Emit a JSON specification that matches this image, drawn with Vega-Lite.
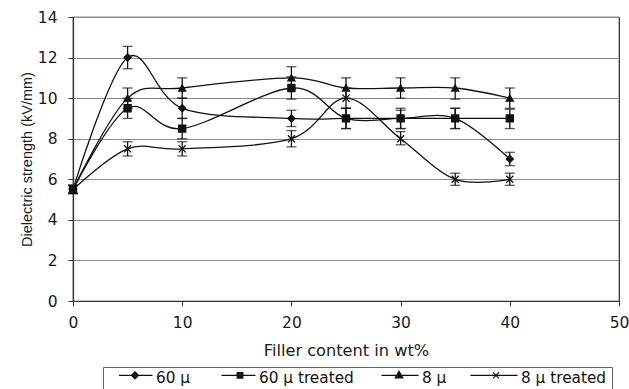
{
  "$schema": "https://vega.github.io/schema/vega-lite/v6.json",
  "width": 546,
  "height": 284,
  "autosize": "none",
  "padding": {"left": 73, "top": 17, "right": 10, "bottom": 88},
  "background": "white",
  "config": {
    "view": {"stroke": "#222", "strokeWidth": 1.2},
    "axis": {
      "labelFont": "DejaVu Sans",
      "labelFontSize": 15.5,
      "labelColor": "#1a1a1a",
      "titleColor": "#1a1a1a",
      "titleFontWeight": "normal",
      "domainColor": "#333",
      "domainWidth": 1.2,
      "tickColor": "#333",
      "tickSize": 5
    }
  },
  "data": {
    "values": [
      {"series": "60 μ", "filler": 0, "strength": 5.5, "lo": 5.3, "hi": 5.7},
      {"series": "60 μ", "filler": 5, "strength": 12, "lo": 11.45, "hi": 12.55},
      {"series": "60 μ", "filler": 10, "strength": 9.5, "lo": 9.0, "hi": 10.0},
      {"series": "60 μ", "filler": 20, "strength": 9, "lo": 8.6, "hi": 9.4},
      {"series": "60 μ", "filler": 25, "strength": 9, "lo": 8.5, "hi": 9.5},
      {"series": "60 μ", "filler": 30, "strength": 9, "lo": 8.5, "hi": 9.4},
      {"series": "60 μ", "filler": 35, "strength": 9, "lo": 8.5, "hi": 9.5},
      {"series": "60 μ", "filler": 40, "strength": 7, "lo": 6.67, "hi": 7.33},
      {"series": "60 μ treated", "filler": 0, "strength": 5.5, "lo": 5.3, "hi": 5.7},
      {"series": "60 μ treated", "filler": 5, "strength": 9.5, "lo": 9.0, "hi": 10.0},
      {"series": "60 μ treated", "filler": 10, "strength": 8.5, "lo": 8.0, "hi": 9.0},
      {"series": "60 μ treated", "filler": 20, "strength": 10.5, "lo": 9.95, "hi": 11.05},
      {"series": "60 μ treated", "filler": 25, "strength": 9, "lo": 8.5, "hi": 9.5},
      {"series": "60 μ treated", "filler": 30, "strength": 9, "lo": 8.5, "hi": 9.5},
      {"series": "60 μ treated", "filler": 35, "strength": 9, "lo": 8.5, "hi": 9.5},
      {"series": "60 μ treated", "filler": 40, "strength": 9, "lo": 8.5, "hi": 9.45},
      {"series": "8 μ", "filler": 0, "strength": 5.5, "lo": 5.3, "hi": 5.7},
      {"series": "8 μ", "filler": 5, "strength": 10, "lo": 9.5, "hi": 10.5},
      {"series": "8 μ", "filler": 10, "strength": 10.5, "lo": 10.0, "hi": 11.0},
      {"series": "8 μ", "filler": 20, "strength": 11, "lo": 10.45, "hi": 11.55},
      {"series": "8 μ", "filler": 25, "strength": 10.5, "lo": 10.0, "hi": 11.0},
      {"series": "8 μ", "filler": 30, "strength": 10.5, "lo": 10.0, "hi": 11.0},
      {"series": "8 μ", "filler": 35, "strength": 10.5, "lo": 9.95, "hi": 11.0},
      {"series": "8 μ", "filler": 40, "strength": 10, "lo": 9.5, "hi": 10.5},
      {"series": "8 μ treated", "filler": 0, "strength": 5.5, "lo": 5.3, "hi": 5.7},
      {"series": "8 μ treated", "filler": 5, "strength": 7.5, "lo": 7.15, "hi": 7.85},
      {"series": "8 μ treated", "filler": 10, "strength": 7.5, "lo": 7.15, "hi": 7.85},
      {"series": "8 μ treated", "filler": 20, "strength": 8, "lo": 7.6, "hi": 8.4},
      {"series": "8 μ treated", "filler": 25, "strength": 10, "lo": 9.5, "hi": 10.5},
      {"series": "8 μ treated", "filler": 30, "strength": 8, "lo": 7.7, "hi": 8.35},
      {"series": "8 μ treated", "filler": 35, "strength": 6, "lo": 5.7, "hi": 6.3},
      {"series": "8 μ treated", "filler": 40, "strength": 6, "lo": 5.7, "hi": 6.3}
    ]
  },
  "encoding": {
    "x": {
      "field": "filler",
      "type": "quantitative",
      "scale": {"domain": [0, 50], "nice": false},
      "axis": {
        "title": "Filler content in wt%",
        "titleFont": "DejaVu Sans",
        "titleFontSize": 16.2,
        "titlePadding": 12,
        "values": [0, 10, 20, 30, 40, 50],
        "labelPadding": 9,
        "grid": false,
        "labelFlush": false
      }
    }
  },
  "layer": [
    {
      "mark": {"type": "rule", "color": "#111", "strokeWidth": 1.3},
      "encoding": {
        "y": {"field": "lo", "type": "quantitative"},
        "y2": {"field": "hi"}
      }
    },
    {
      "mark": {"type": "tick", "orient": "horizontal", "size": 10, "thickness": 1.3, "color": "#111"},
      "encoding": {"y": {"field": "lo", "type": "quantitative"}}
    },
    {
      "mark": {"type": "tick", "orient": "horizontal", "size": 10, "thickness": 1.3, "color": "#111"},
      "encoding": {"y": {"field": "hi", "type": "quantitative"}}
    },
    {
      "mark": {"type": "line", "interpolate": "cardinal", "color": "#111", "strokeWidth": 1.3},
      "encoding": {
        "y": {"field": "strength", "type": "quantitative"},
        "detail": {"field": "series"}
      }
    },
    {
      "mark": {"type": "point", "filled": true, "color": "#111", "stroke": "#111", "strokeWidth": 1.3, "size": 50, "opacity": 1},
      "encoding": {
        "y": {
          "field": "strength",
          "type": "quantitative",
          "scale": {"domain": [0, 14], "nice": false},
          "axis": {
            "title": "Dielectric strength (kV/mm)",
            "titleFont": "Liberation Sans",
            "titleFontSize": 14.5,
            "titlePadding": 3,
            "values": [0, 2, 4, 6, 8, 10, 12, 14],
            "labelPadding": 11,
            "grid": true,
            "gridColor": "#8a8a8a",
            "gridWidth": 1
          }
        },
        "shape": {
          "field": "series",
          "type": "nominal",
          "scale": {
            "domain": ["60 μ", "60 μ treated", "8 μ", "8 μ treated"],
            "range": ["diamond", "square", "triangle-up", "M-1,-1L1,1M-1,1L1,-1"]
          },
          "legend": null
        }
      }
    },
    {
      "description": "Key: each entry is a line segment with the series marker on it",
      "transform": [{"filter": "datum.filler < 0"}],
      "mark": {"type": "point", "filled": false, "color": "#111", "strokeWidth": 1.3, "opacity": 1},
      "encoding": {
        "shape": {
          "field": "series",
          "type": "nominal",
          "scale": {
            "domain": ["60 μ", "60 μ treated", "8 μ", "8 μ treated"],
            "range": [
              "M0,-0.8L3.35,-0.8M1.6,-1.15L1.95,-0.8L1.6,-0.45L1.25,-0.8ZM1.6,-1.02L1.82,-0.8L1.6,-0.58L1.38,-0.8ZM1.6,-0.9L1.7,-0.8L1.6,-0.7L1.5,-0.8Z",
              "M-0.05,-0.8L3.35,-0.8M1.52,-1.08L2.08,-1.08L2.08,-0.52L1.52,-0.52ZM1.66,-0.94L1.94,-0.94L1.94,-0.66L1.66,-0.66Z",
              "M-0.35,-0.8L3.35,-0.8M1.4,-1.2L1.77,-0.55L1.03,-0.55ZM1.4,-0.98L1.57,-0.67L1.23,-0.67Z",
              "M-1.35,-0.8L3.35,-0.8M0.9,-1.1L1.5,-0.5M0.9,-0.5L1.5,-1.1"
            ]
          },
          "legend": {
            "title": null,
            "orient": "none",
            "legendX": 30,
            "legendY": 350,
            "direction": "horizontal",
            "padding": 5,
            "strokeColor": "#666",
            "symbolSize": 400,
            "symbolStrokeColor": "#111",
            "symbolFillColor": "#111",
            "symbolStrokeWidth": 1.3,
            "symbolOpacity": 1,
            "labelOffset": 26,
            "columnPadding": 20,
            "labelFont": "DejaVu Sans",
            "labelFontSize": 15.3,
            "labelColor": "#111",
            "labelBaseline": "alphabetic"
          }
        }
      }
    }
  ],
  "resolve": {"scale": {"shape": "independent"}}
}
